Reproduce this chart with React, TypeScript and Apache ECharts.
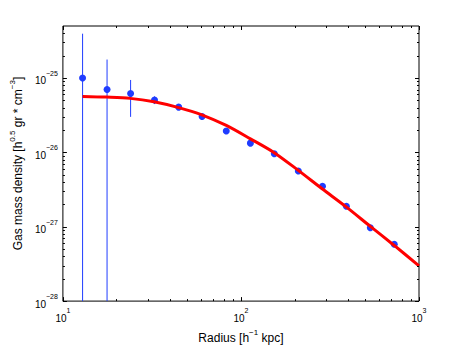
import React, { useEffect, useRef } from "react";
import * as echarts from "echarts";

// Observed data points (radius in h^-1 kpc, density in h^0.5 gr cm^-3)
const radius = [12.9, 17.7, 24.0, 32.7, 44.7, 60.5, 82.7, 113, 154, 210, 287, 391, 533, 726];
const density = [1.0e-25, 7.0e-26, 6.2e-26, 5.06e-26, 4.06e-26, 3.04e-26, 1.94e-26, 1.33e-26, 9.6e-27, 5.6e-27, 3.5e-27, 1.88e-27, 9.7e-28, 5.8e-28];
const densityErr = [2.94e-25, 1.07e-25, 3.2e-26, 6e-27, 2e-27, 1.5e-27, 8e-28, 5e-28, 3e-28, 2e-28, 1e-28, 6e-29, 3e-29, 2e-29];

// Fitted model curve
const fitRadius = [12.9, 17.6, 23.9, 32.5, 44.7, 60.3, 82.7, 113, 153.7, 209, 287, 390, 533, 726, 1000];
const fitDensity = [5.65e-26, 5.53e-26, 5.32e-26, 4.79e-26, 4.0e-26, 3.2e-26, 2.3e-26, 1.52e-26, 9.91e-27, 5.77e-27, 3.21e-27, 1.85e-27, 1.01e-27, 5.6e-28, 2.98e-28];

// Axis ranges and tick marks
const xMin = 10;
const xMax = 1000;
const yMin = 1e-28;
const yMax = 5e-25;
const xMajorTicks = [10, 100, 1000];
const xMinorTicks = [20, 30, 40, 50, 60, 70, 80, 90, 200, 300, 400, 500, 600, 700, 800, 900];
const yMajorTicks = [1e-28, 1e-27, 1e-26, 1e-25];
const yMinorTicks = [
  2e-28, 3e-28, 4e-28, 5e-28, 6e-28, 7e-28, 8e-28, 9e-28,
  2e-27, 3e-27, 4e-27, 5e-27, 6e-27, 7e-27, 8e-27, 9e-27,
  2e-26, 3e-26, 4e-26, 5e-26, 6e-26, 7e-26, 8e-26, 9e-26,
  2e-25, 3e-25, 4e-25,
];

// ECharts rounds to at most 20 decimals, so densities are fed in units of 1e-28
const Y_EXP = 28;
const ys = (v: number) => v * Math.pow(10, Y_EXP);

const BLUE = "#1f3cff";
const RED = "#ff0000";
const FONT = "'Liberation Sans', Arial, sans-serif";

function powLabel(offset: number) {
  return (v: number) => {
    const l = Math.log10(v);
    const e = Math.round(l);
    if (Math.abs(l - e) > 1e-6) return "";
    const ex = e - offset;
    const s = ex < 0 ? "\u2212" + -ex : String(ex);
    return `{b|10}{s|${s}}`;
  };
}

const tickRich = {
  b: { fontSize: 10, lineHeight: 16, verticalAlign: "bottom", fontFamily: FONT, color: "#000" },
  s: { fontSize: 7, lineHeight: 11, verticalAlign: "top", fontFamily: FONT, color: "#000" },
};
const nameRich = {
  n: { fontSize: 12, lineHeight: 16, verticalAlign: "bottom", fontFamily: FONT, color: "#000" },
  s: { fontSize: 8, lineHeight: 11, verticalAlign: "top", fontFamily: FONT, color: "#000" },
};

export default function App() {
  const ref = useRef<HTMLDivElement>(null);
  useEffect(() => {
    if (!ref.current) return;
    const chart = echarts.init(ref.current, null, { renderer: "svg" });

    const xTickData = [
      ...xMajorTicks.map((v) => [v, 10, 1]),
      ...xMinorTicks.map((v) => [v, 10, 0]),
    ];
    const yTickData = [
      ...yMajorTicks.map((v) => [100, ys(v), 1]),
      ...yMinorTicks.map((v) => [100, ys(v), 0]),
    ];
    const errData = radius.map((r, i) => [r, ys(density[i]), ys(densityErr[i])]);

    const option: any = {
      animation: false,
      backgroundColor: "#fff",
      grid: {
        left: 60,
        right: 44,
        top: 26,
        bottom: 40,
        show: true,
        borderColor: "#000",
        borderWidth: 1,
        backgroundColor: "transparent",
      },
      xAxis: {
        type: "log",
        logBase: 10,
        min: xMin,
        max: xMax,
        name: "{n|Radius [h}{s|\u22121}{n| kpc]}",
        nameLocation: "middle",
        nameGap: 26,
        nameTextStyle: { rich: nameRich },
        axisLine: { show: false },
        axisTick: { show: false },
        splitLine: { show: false },
        axisLabel: {
          margin: 6,
          formatter: powLabel(0),
          rich: tickRich,
          showMinLabel: true,
          showMaxLabel: true,
        },
      },
      yAxis: {
        type: "log",
        logBase: 10,
        min: ys(yMin),
        max: ys(yMax),
        name: "{n|Gas mass density [h}{s|0.5}{n| gr * cm}{s|\u22123}{n|]}",
        nameLocation: "middle",
        nameGap: 23,
        nameRotate: 90,
        nameTextStyle: { rich: nameRich },
        axisLine: { show: false },
        axisTick: { show: false },
        splitLine: { show: false },
        axisLabel: {
          margin: 5,
          formatter: powLabel(Y_EXP),
          rich: tickRich,
        },
      },
      series: [
        {
          type: "custom",
          name: "xticks",
          data: xTickData,
          encode: { x: 0, y: 1 },
          silent: true,
          z: 5,
          renderItem: (params: any, api: any) => {
            const cs = params.coordSys;
            const px = Math.round(api.coord([api.value(0), api.value(1)])[0]) + 0.5;
            const len = api.value(2) ? 4 : 2;
            const bottom = cs.y + cs.height;
            return {
              type: "group",
              children: [
                { type: "line", shape: { x1: px, y1: bottom, x2: px, y2: bottom - len }, style: { stroke: "#000", lineWidth: 1 } },
                { type: "line", shape: { x1: px, y1: cs.y, x2: px, y2: cs.y + len }, style: { stroke: "#000", lineWidth: 1 } },
              ],
            };
          },
        },
        {
          type: "custom",
          name: "yticks",
          data: yTickData,
          encode: { x: 0, y: 1 },
          silent: true,
          z: 5,
          renderItem: (params: any, api: any) => {
            const cs = params.coordSys;
            const py = Math.round(api.coord([api.value(0), api.value(1)])[1]) + 0.5;
            const len = api.value(2) ? 4 : 2;
            const right = cs.x + cs.width;
            return {
              type: "group",
              children: [
                { type: "line", shape: { x1: cs.x, y1: py, x2: cs.x + len, y2: py }, style: { stroke: "#000", lineWidth: 1 } },
                { type: "line", shape: { x1: right, y1: py, x2: right - len, y2: py }, style: { stroke: "#000", lineWidth: 1 } },
              ],
            };
          },
        },
        {
          type: "custom",
          name: "errors",
          data: errData,
          encode: { x: 0, y: 1 },
          silent: true,
          z: 2,
          renderItem: (params: any, api: any) => {
            const cs = params.coordSys;
            const x = api.value(0);
            const y = api.value(1);
            const e = api.value(2);
            const px = api.coord([x, y])[0];
            let top = api.coord([x, y + e])[1];
            const lo = y - e;
            let bot = lo > 0 ? api.coord([x, lo])[1] : cs.y + cs.height;
            top = Math.max(top, cs.y);
            bot = Math.min(bot, cs.y + cs.height);
            return {
              type: "line",
              shape: { x1: px, y1: top, x2: px, y2: bot },
              style: { stroke: BLUE, lineWidth: 1 },
            };
          },
        },
        {
          type: "scatter",
          name: "data",
          data: radius.map((r, i) => [r, ys(density[i])]),
          symbol: "circle",
          symbolSize: 7,
          itemStyle: { color: BLUE, opacity: 1 },
          z: 3,
        },
        {
          type: "line",
          name: "fit",
          data: fitRadius.map((r, i) => [r, ys(fitDensity[i])]),
          showSymbol: false,
          smooth: 0.3,
          lineStyle: { color: RED, width: 3 },
          z: 4,
        },
      ],
    };
    chart.setOption(option);
    return () => chart.dispose();
  }, []);
  return (
    <div
      ref={ref}
      style={{ position: "absolute", left: 0, top: 0, width: 463, height: 349, background: "#fff" }}
    />
  );
}
